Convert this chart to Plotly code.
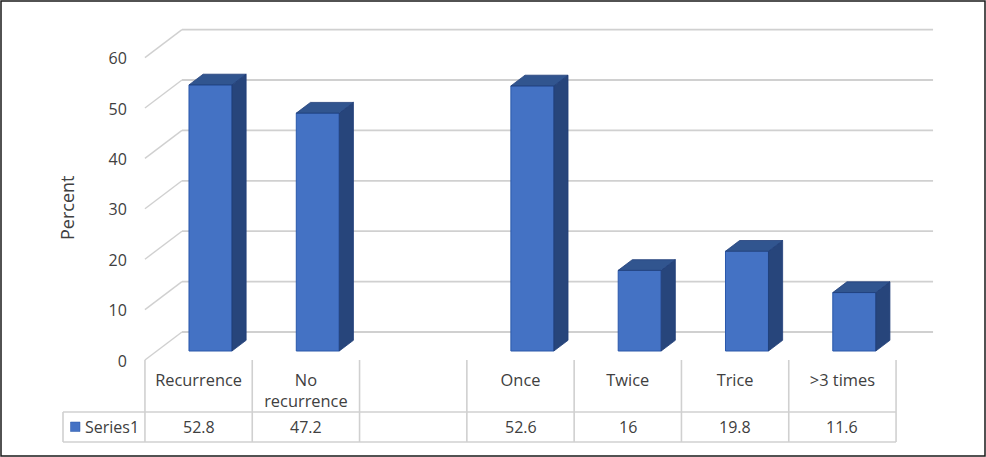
import plotly.graph_objects as go

categories = ["Recurrence", "No<br>recurrence", "", "Once", "Twice", "Trice", ">3 times"]
values = [52.8, 47.2, None, 52.6, 16, 19.8, 11.6]
table_text = ["52.8", "47.2", "", "52.6", "16", "19.8", "11.6"]
y_ticks = [0, 10, 20, 30, 40, 50, 60]
series_name = "Series1"

W, H = 986, 457
CAT_PX = 107.3          # width of one category in px
CAT0_PX = 198.6         # px centre of the first category
VAL_PX = 5.04           # px per value unit
VAL0_PX = 360.0         # px of value 0 on the front edge
DEPTH_X = 37 / CAT_PX   # floor depth in category units
DEPTH_Y = 28 / VAL_PX   # floor depth in value units
BAR_D0 = 9 / 28         # depth of bar front plane
BAR_D1 = 19.7 / 28      # depth of bar back plane
BAR_W = 43 / CAT_PX
TICK_NUDGE = 1 / VAL_PX # tick labels sit about 1px below their gridline ends

X_RANGE = [(0 - CAT0_PX) / CAT_PX, (W - CAT0_PX) / CAT_PX]
Y_RANGE = [(VAL0_PX - H) / VAL_PX, VAL0_PX / VAL_PX]
n = len(categories)
x_left = -0.5
x_right = n - 0.5


def paper_x(px):
    return px / W


def paper_y(py):
    return 1 - py / H


GRID = "#d0d0d0"
TEXT = "#404040"
FONT = "Open Sans"
FRONT, SIDE, TOP, EDGE = "#4472c4", "#27457b", "#31558f", "#2a58aa"
SIDE_EDGE = "#1f3d78"

shapes = []
# back wall and left wall gridlines
for t in y_ticks:
    shapes.append(dict(type="line", xref="x", yref="y", layer="below",
                       x0=x_left + DEPTH_X, x1=x_right + DEPTH_X, y0=t + DEPTH_Y, y1=t + DEPTH_Y,
                       line=dict(color=GRID, width=1.8)))
    shapes.append(dict(type="line", xref="x", yref="y", layer="below",
                       x0=x_left, x1=x_left + DEPTH_X, y0=t, y1=t + DEPTH_Y,
                       line=dict(color=GRID, width=1.4)))

# data table rules (pixel layout)
TABLE_TOP, TABLE_MID, TABLE_BOT = 360, 412, 442
TABLE_LEFT, TABLE_RIGHT = 63, 896
for i in range(n + 1):
    shapes.append(dict(type="line", xref="x", yref="paper",
                       x0=x_left + i, x1=x_left + i, y0=paper_y(TABLE_TOP), y1=paper_y(TABLE_BOT),
                       line=dict(color=GRID, width=1.6)))
for py in (TABLE_MID, TABLE_BOT):
    shapes.append(dict(type="line", xref="paper", yref="paper",
                       x0=paper_x(TABLE_LEFT), x1=paper_x(TABLE_RIGHT), y0=paper_y(py), y1=paper_y(py),
                       line=dict(color=GRID, width=1.6)))
shapes.append(dict(type="line", xref="paper", yref="paper",
                   x0=paper_x(TABLE_LEFT), x1=paper_x(TABLE_LEFT), y0=paper_y(TABLE_MID), y1=paper_y(TABLE_BOT),
                   line=dict(color=GRID, width=1.6)))
# legend key inside the table
shapes.append(dict(type="rect", xref="paper", yref="paper", x0=paper_x(70.5), x1=paper_x(80),
                   y0=paper_y(422), y1=paper_y(431.5), fillcolor=FRONT, line=dict(color=EDGE, width=0.5)))
# outer frame
shapes.append(dict(type="rect", xref="paper", yref="paper", x0=paper_x(1), x1=paper_x(985),
                   y0=paper_y(1), y1=paper_y(456), line=dict(color="#1a1a1a", width=1.5)))

fig = go.Figure()

front_x = [i + BAR_D0 * DEPTH_X for i in range(n)]
front_base = BAR_D0 * DEPTH_Y
fig.add_trace(go.Bar(x=front_x, y=values, base=front_base, width=BAR_W, name=series_name,
                     marker=dict(color=FRONT, line=dict(color=EDGE, width=1)),
                     showlegend=False, hoverinfo="y"))

# side and top faces follow from the same values through the depth projection
dd = BAR_D1 - BAR_D0
for i, v in enumerate(values):
    if v is None:
        continue
    xr = front_x[i] + BAR_W / 2
    xl = front_x[i] - BAR_W / 2
    y0 = front_base
    y1 = v + front_base
    dx, dy = dd * DEPTH_X, dd * DEPTH_Y
    fig.add_trace(go.Scatter(x=[xr, xr + dx, xr + dx, xr, xr], y=[y0, y0 + dy, y1 + dy, y1, y0],
                             mode="lines", fill="toself", fillcolor=SIDE,
                             line=dict(color=SIDE_EDGE, width=0.8), showlegend=False, hoverinfo="skip"))
    fig.add_trace(go.Scatter(x=[xl, xr, xr + dx, xl + dx, xl], y=[y1, y1, y1 + dy, y1 + dy, y1],
                             mode="lines", fill="toself", fillcolor=TOP,
                             line=dict(color=SIDE_EDGE, width=0.8), showlegend=False, hoverinfo="skip"))

annotations = [dict(x=i, y=paper_y(427), xref="x", yref="paper", text=t, showarrow=False,
                    xanchor="center", yanchor="middle",
                    font=dict(family=FONT, size=16, color=TEXT))
               for i, t in enumerate(table_text) if t]
annotations.append(dict(x=paper_x(67), y=paper_y(208), xref="paper", yref="paper", text="Percent",
                        textangle=-90, showarrow=False, xanchor="center", yanchor="middle",
                        font=dict(family=FONT, size=18, color=TEXT)))
annotations.append(dict(x=paper_x(85), y=paper_y(427), xref="paper", yref="paper", text=series_name,
                        showarrow=False, xanchor="left", yanchor="middle", xshift=-2,
                        font=dict(family=FONT, size=16, color=TEXT)))

fig.update_layout(
    width=W, height=H, margin=dict(l=0, r=0, t=0, b=0, pad=0),
    paper_bgcolor="white", plot_bgcolor="white",
    font=dict(family=FONT, size=16, color=TEXT),
    shapes=shapes, annotations=annotations,
    barmode="overlay", showlegend=False,
    xaxis=dict(range=X_RANGE, domain=[0, 1], anchor="free", position=paper_y(VAL0_PX), fixedrange=True,
               tickmode="array", tickvals=list(range(n)), ticktext=categories,
               ticks="outside", ticklen=5, tickcolor="rgba(0,0,0,0)", showgrid=False, zeroline=False,
               showline=False, tickfont=dict(family=FONT, size=16.4, color=TEXT), automargin=False),
    yaxis=dict(range=Y_RANGE, domain=[0, 1], anchor="free", position=paper_x(145), fixedrange=True,
               tickmode="array", tickvals=[t - TICK_NUDGE for t in y_ticks], ticktext=[str(t) for t in y_ticks],
               ticks="outside", ticklen=15,
               tickcolor="rgba(0,0,0,0)", showgrid=False, zeroline=False, showline=False,
               tickfont=dict(family=FONT, size=16, color=TEXT), automargin=False),
)

fig.write_html("out.html", config={"displayModeBar": False},
               post_script="document.body.style.margin='0';")
